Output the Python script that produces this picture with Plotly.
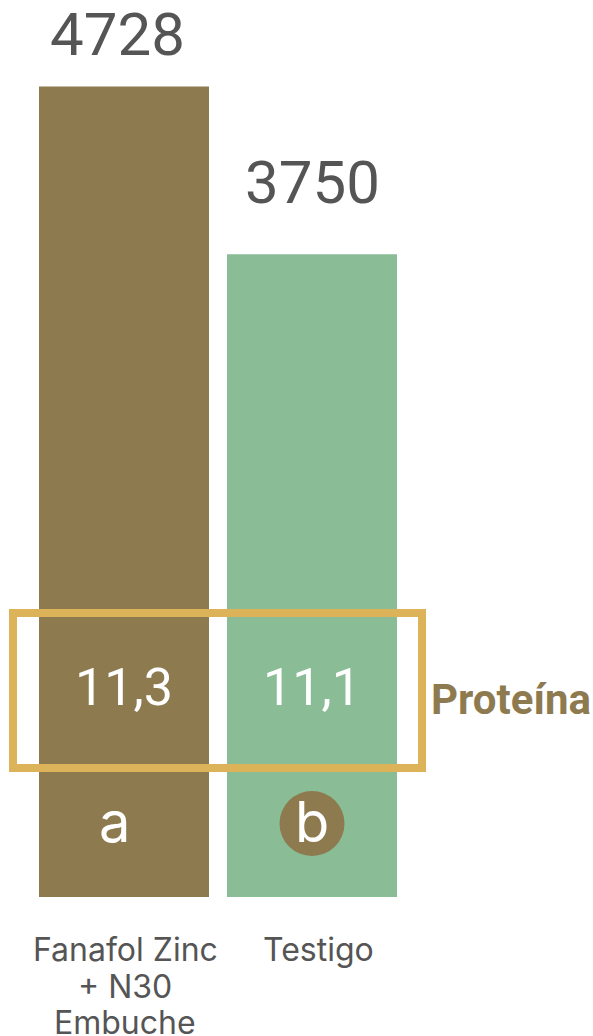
import plotly.graph_objects as go

categories = ["Fanafol Zinc<br>+ N30<br>Embuche", "Testigo"]
yield_values = [4728, 3750]
protein_labels = ["11,3", "11,1"]
letters = ["a", "b"]
bar_colors = ["#8E7A4F", "#8ABC96"]

W, H = 593, 1036
ML, MT = 30, 40
PW, PH = 376, 857
MR, MB = W - ML - PW, H - MT - PH

fig = go.Figure()
fig.add_trace(go.Bar(
    x=[0, 1], y=yield_values,
    marker=dict(color=bar_colors, line=dict(width=0)),
    hoverinfo="skip",
))

ann = []
value_yshift = [52, 72]
value_xshift = [-7, 0]
letter_xshift = [-10, 0]
cat_xshift = [1, 6]
LINE_H = 36.5
for i, v in enumerate(yield_values):
    ann.append(dict(x=i, y=v, xref="x", yref="y", text=str(v), showarrow=False,
                    yanchor="middle", yshift=value_yshift[i], xshift=value_xshift[i],
                    font=dict(family="Roboto", size=60, color="#555555")))
    ann.append(dict(x=i, y=0.2439, xref="x", yref="paper", text=protein_labels[i],
                    showarrow=False, yanchor="middle",
                    font=dict(family="Roboto", size=52, color="white")))
    ann.append(dict(x=i, y=0.0875, xref="x", yref="paper", text=letters[i],
                    showarrow=False, yanchor="middle", xshift=letter_xshift[i],
                    font=dict(family="Inter", size=56, color="white")))
    for k, line in enumerate(categories[i].split("<br>")):
        ann.append(dict(x=i, y=0, xref="x", yref="y", text=line, showarrow=False,
                        yanchor="middle", yshift=-(52.5 + LINE_H * k),
                        xshift=cat_xshift[i],
                        font=dict(family="Inter", size=32, color="#555555")))

ann.append(dict(x=1.061, y=0.23, xref="paper", yref="paper", text="<b>Proteína</b>",
                showarrow=False, xanchor="left", yanchor="middle",
                font=dict(family="Roboto", size=42, color="#8E7A4F")))

shapes = [
    dict(type="circle", xref="x", yref="paper", x0=1 - 0.1729, x1=1 + 0.1729,
         y0=0.0478, y1=0.1237, fillcolor="#8E7A4F", line=dict(width=0), layer="above"),
    dict(type="rect", xref="paper", yref="paper", x0=-0.0452, x1=1.0426,
         y0=0.1505, y1=0.3314, line=dict(color="#DDB35A", width=8),
         fillcolor="rgba(0,0,0,0)", layer="above"),
]

fig.update_layout(
    width=W, height=H,
    margin=dict(l=ML, r=MR, t=MT, b=MB, pad=0, autoexpand=False),
    paper_bgcolor="white", plot_bgcolor="white",
    showlegend=False, bargap=0.0957,
    xaxis=dict(range=[-0.5, 1.5], tickvals=[0, 1], showticklabels=False,
               showgrid=False, zeroline=False, showline=False, automargin=False,
               ticks=""),
    yaxis=dict(range=[0, 5000], visible=False, showgrid=False, zeroline=False,
               automargin=False),
    annotations=ann, shapes=shapes,
)

fig.write_html(
    "out.html",
    config={"displayModeBar": False, "staticPlot": True},
    post_script="document.body.style.margin='0';document.body.style.overflow='hidden';",
)
